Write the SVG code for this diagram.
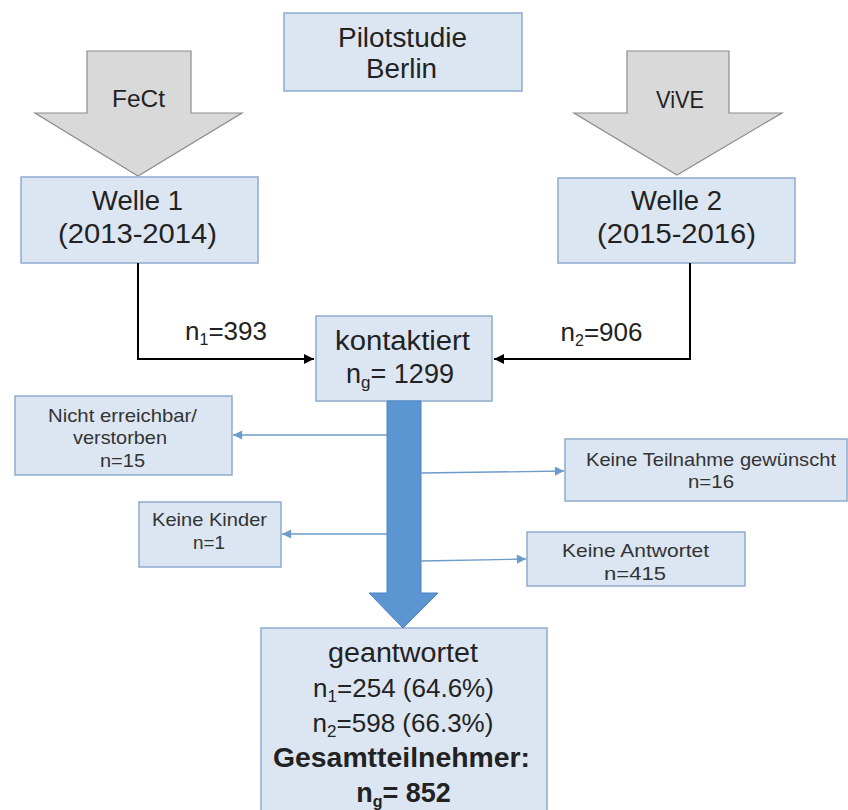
<svg xmlns="http://www.w3.org/2000/svg" width="848" height="810" viewBox="0 0 848 810">
<defs>
<style>
text{font-family:"Liberation Sans",Arial,sans-serif;fill:#222;text-anchor:middle}
.box{fill:#dce6f2;stroke:#8eaacb;stroke-width:1.5}
.gray{fill:#d9d9d9;stroke:#8c8c8c;stroke-width:1.2}
.big{font-size:27px}
.mid{font-size:26px}
.fm{font-size:24px}
.sm{font-size:19px;fill:#333}
.b{font-weight:bold}
.blk{fill:none;stroke:#000;stroke-width:2}
.bl{fill:none;stroke:#6e9bc9;stroke-width:1.3}
</style>
<marker id="ak" viewBox="0 0 10 10" refX="10" refY="5" markerWidth="5" markerHeight="5" orient="auto" markerUnits="strokeWidth"><path d="M0,0 L10,5 L0,10 z" fill="#000"/></marker>
<marker id="ab" viewBox="0 0 10 10" refX="10" refY="5" markerWidth="8" markerHeight="7" orient="auto" markerUnits="strokeWidth"><path d="M0,0 L10,5 L0,10 z" fill="#6e9bc9"/></marker>
</defs>
<rect width="848" height="810" fill="#fff"/>

<g id="pilot">
<rect class="box" x="284" y="13" width="238" height="78"/>
<text class="big" x="402.5" y="47" textLength="129" lengthAdjust="spacingAndGlyphs">Pilotstudie</text>
<text class="big" x="401.5" y="78" textLength="71" lengthAdjust="spacingAndGlyphs">Berlin</text>
</g>

<g id="fect">
<polygon class="gray" points="87,51 191,51 191,113 242,113 138,176 35,113 87,113"/>
<text class="fm" x="138.5" y="107" textLength="53" lengthAdjust="spacingAndGlyphs">FeCt</text>
</g>

<g id="vive">
<polygon class="gray" points="627,51 729,51 729,113 782,113 677,175 574,113 627,113"/>
<text class="fm" x="680" y="108" textLength="48" lengthAdjust="spacingAndGlyphs">ViVE</text>
</g>

<g id="welle1">
<rect class="box" x="21" y="177" width="237" height="86"/>
<text class="big" x="137.5" y="210" textLength="91" lengthAdjust="spacingAndGlyphs">Welle 1</text>
<text class="big" x="137.5" y="243" textLength="159" lengthAdjust="spacingAndGlyphs">(2013-2014)</text>
</g>

<g id="welle2">
<rect class="box" x="558" y="178" width="237" height="85"/>
<text class="big" x="676.5" y="210" textLength="91" lengthAdjust="spacingAndGlyphs">Welle 2</text>
<text class="big" x="676.5" y="243" textLength="159" lengthAdjust="spacingAndGlyphs">(2015-2016)</text>
</g>

<g id="kontaktiert">
<rect class="box" x="316" y="316" width="176" height="85"/>
<text class="big" x="402.5" y="350" textLength="135" lengthAdjust="spacingAndGlyphs">kontaktiert</text>
<text class="big" x="400" y="383">n<tspan font-size="17" dy="5">g</tspan><tspan dy="-5">= 1299</tspan></text>
</g>

<g id="nicht">
<rect class="box" x="15" y="396" width="217" height="79"/>
<text class="sm" x="122.5" y="422" textLength="149" lengthAdjust="spacingAndGlyphs">Nicht erreichbar/</text>
<text class="sm" x="120" y="444" textLength="94" lengthAdjust="spacingAndGlyphs">verstorben</text>
<text class="sm" x="122.5" y="467" textLength="45" lengthAdjust="spacingAndGlyphs">n=15</text>
</g>

<g id="kinder">
<rect class="box" x="139" y="502" width="142" height="65"/>
<text class="sm" x="209.5" y="526" textLength="115" lengthAdjust="spacingAndGlyphs">Keine Kinder</text>
<text class="sm" x="209" y="549" textLength="32" lengthAdjust="spacingAndGlyphs">n=1</text>
</g>

<g id="teilnahme">
<rect class="box" x="565" y="439" width="282" height="62"/>
<text class="sm" x="711" y="466" textLength="250" lengthAdjust="spacingAndGlyphs">Keine Teilnahme gewünscht</text>
<text class="sm" x="711" y="488" textLength="46" lengthAdjust="spacingAndGlyphs">n=16</text>
</g>

<g id="antwortet">
<rect class="box" x="527" y="532" width="218" height="54"/>
<text class="sm" x="635.5" y="557" textLength="147" lengthAdjust="spacingAndGlyphs">Keine  Antwortet</text>
<text class="sm" x="635" y="580" textLength="62" lengthAdjust="spacingAndGlyphs">n=415</text>
</g>

<g id="geantwortet">
<rect class="box" x="261" y="628" width="286" height="190"/>
<text class="big" x="403" y="662" textLength="150" lengthAdjust="spacingAndGlyphs">geantwortet</text>
<text class="mid" x="403.5" y="697">n<tspan font-size="17" dy="5">1</tspan><tspan dy="-5">=254 (64.6%)</tspan></text>
<text class="mid" x="403" y="732">n<tspan font-size="17" dy="5">2</tspan><tspan dy="-5">=598 (66.3%)</tspan></text>
<text class="big b" x="401.5" y="767" textLength="257" lengthAdjust="spacingAndGlyphs">Gesamtteilnehmer:</text>
<text class="big b" x="403.5" y="802">n<tspan font-size="16" dy="5">g</tspan><tspan dy="-5">= 852</tspan></text>
</g>

<g id="connectors">
<polyline class="blk" points="138,263 138,359 314,359" marker-end="url(#ak)"/>
<polyline class="blk" points="690,263 690,359 494,359" marker-end="url(#ak)"/>
<text class="mid" x="226" y="340">n<tspan font-size="16" dy="5">1</tspan><tspan dy="-5">=393</tspan></text>
<text class="mid" x="601.5" y="341">n<tspan font-size="16" dy="5">2</tspan><tspan dy="-5">=906</tspan></text>
<polygon points="387,401 421,401 421,593 438,593 403,628 369,593 387,593" fill="#5b96d3" stroke="#4a82c0" stroke-width="1"/>
<line class="bl" x1="387" y1="435" x2="233" y2="435" marker-end="url(#ab)"/>
<line class="bl" x1="387" y1="534" x2="282" y2="534" marker-end="url(#ab)"/>
<line class="bl" x1="421" y1="473" x2="564" y2="471" marker-end="url(#ab)"/>
<line class="bl" x1="421" y1="561" x2="526" y2="559" marker-end="url(#ab)"/>
</g>
</svg>
